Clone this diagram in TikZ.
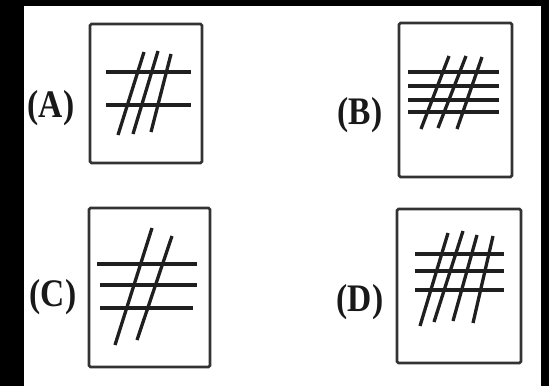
\documentclass[tikz,border=0pt]{standalone}
\usepackage{fontspec}
\setmainfont{Liberation Serif}
\begin{document}
\begin{tikzpicture}[x=1pt,y=-1pt,
  framebox/.style={draw=black!80,line width=2.8pt,rounded corners=1.5pt},
  hline/.style={draw=black!88,line width=3.3pt},
  lbl/.style={anchor=base,inner sep=0pt,text=black!90,font=\bfseries\fontsize{39}{41}\selectfont}]
\useasboundingbox (0,0) rectangle (549,386);
\fill[black] (0,0) rectangle (549,386);
\fill[white] (24,6) rectangle (541,386);
% (A)
\node[lbl] (la) at (51,117) {\scalebox{0.86}[1]{(A)}};
\draw[framebox] (90,24) rectangle (202,163);
\draw[hline] (106,72) -- (191,72);
\draw[hline] (106,105) -- (191,105);
\draw[hline] (144,52) -- (118,135);
\draw[hline] (158,51) -- (133,134);
\draw[hline] (171,54) -- (151,132);
% (B)
\node[lbl] (lb) at (360,124) {\scalebox{0.86}[1]{(B)}};
\draw[framebox] (399,23) rectangle (512,177);
\draw[hline] (408,72) -- (499,72);
\draw[hline] (408,86) -- (499,86);
\draw[hline] (408,100) -- (499,100);
\draw[hline] (408,112) -- (499,112);
\draw[hline] (449,56) -- (421,129);
\draw[hline] (466,56) -- (438,128);
\draw[hline] (482,57) -- (457,129);
% (C)
\node[lbl] (lc) at (53,306) {\scalebox{0.86}[1]{(C)}};
\draw[framebox] (89,208) rectangle (210,367);
\draw[hline] (97,264) -- (197,264);
\draw[hline] (100,285) -- (197,285);
\draw[hline] (100,308) -- (193,308);
\draw[hline] (152,228) -- (115,345);
\draw[hline] (172,236) -- (137,340);
% (D)
\node[lbl] (ld) at (360,311) {\scalebox{0.86}[1]{(D)}};
\draw[framebox] (397,209) rectangle (521,363);
\draw[hline] (415,254) -- (504,254);
\draw[hline] (415,271) -- (504,271);
\draw[hline] (415,290) -- (504,290);
\draw[hline] (448,233) -- (420,326);
\draw[hline] (463,231) -- (434,322);
\draw[hline] (477,235) -- (453,321);
\draw[hline] (493,236) -- (473,323);
\end{tikzpicture}
\end{document}
